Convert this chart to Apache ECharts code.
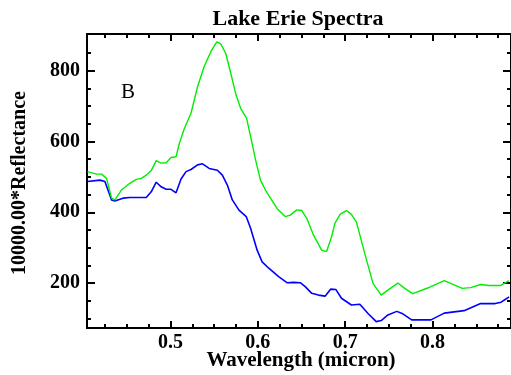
<!DOCTYPE html>
<html>
<head>
<meta charset="utf-8">
<script src="https://cdn.jsdelivr.net/npm/echarts@6/dist/echarts.min.js"></script>
<style>
  html, body { margin: 0; padding: 0; background: #fff; }
  #chart { width: 511px; height: 375px; }
</style>
</head>
<body>
<div id="chart"></div>
<script>
// wavelength (micron) / reflectance*10000
const greenWl = [0.405, 0.4155, 0.4212, 0.4269, 0.4326, 0.4363, 0.4439, 0.4534, 0.461, 0.4667,
  0.4723, 0.478, 0.4837, 0.4894, 0.4951, 0.5007, 0.5064, 0.5102, 0.5159, 0.5235,
  0.531, 0.5386, 0.5462, 0.553, 0.5576, 0.5633, 0.569, 0.5746, 0.5803, 0.5871,
  0.5917, 0.5974, 0.603, 0.6087, 0.6219, 0.6314, 0.6371, 0.6446, 0.6503, 0.656,
  0.6636, 0.673, 0.6787, 0.6844, 0.6882, 0.6943, 0.7014, 0.7068, 0.7128, 0.7223,
  0.7318, 0.7412, 0.7488, 0.7602, 0.7681, 0.7772, 0.7943, 0.8133, 0.8227, 0.8341,
  0.8435, 0.8549, 0.8644, 0.8776, 0.8833, 0.8871];
const greenRefl = [515, 508, 508, 496, 440, 435, 463, 482, 493, 496,
  505, 518, 546, 539, 540, 555, 557, 595, 637, 680,
  755, 812, 854, 882, 876, 849, 793, 736, 694, 666,
  614, 548, 491, 463, 411, 388, 392, 407, 405, 383,
  336, 293, 289, 331, 369, 395, 405, 395, 373, 284,
  199, 166, 180, 200, 185, 170, 186, 207, 197, 185,
  187, 196, 193, 193, 201, 207];

const blueWl = [0.405, 0.4193, 0.425, 0.4326, 0.4363, 0.4457, 0.4534, 0.4723, 0.478, 0.4837,
  0.4894, 0.4951, 0.5007, 0.5064, 0.5121, 0.5178, 0.5235, 0.531, 0.5367, 0.5443,
  0.5537, 0.5594, 0.5651, 0.5708, 0.5784, 0.5867, 0.5917, 0.5992, 0.6049, 0.6125,
  0.6238, 0.6333, 0.6409, 0.6485, 0.6542, 0.6617, 0.6693, 0.6769, 0.6835, 0.6892,
  0.6957, 0.7071, 0.7167, 0.7261, 0.7355, 0.7412, 0.7488, 0.759, 0.7659, 0.7761,
  0.7981, 0.8133, 0.836, 0.8549, 0.8716, 0.8784, 0.8852, 0.8875];
const blueRefl = [487, 491, 487, 435, 432, 440, 442, 442, 458, 485,
  472, 465, 465, 455, 494, 515, 521, 534, 537, 524,
  519, 505, 477, 435, 406, 388, 355, 293, 260, 242,
  218, 201, 202, 201, 190, 171, 166, 163, 183, 182,
  157, 138, 140, 114, 91, 94, 110, 120, 113, 96,
  96, 115, 122, 142, 142, 146, 157, 161];

const xMajor = [0.5, 0.6, 0.7, 0.8];
const xMinor = [0.425, 0.45, 0.475, 0.525, 0.55, 0.575, 0.625, 0.65, 0.675,
  0.725, 0.75, 0.775, 0.825, 0.85, 0.875];
const yMajor = [200, 400, 600, 800];
const yMinor = [100, 150, 250, 300, 350, 450, 500, 550, 650, 700, 750, 850];

const serif = '"Liberation Serif", "DejaVu Serif", serif';

const myChart = echarts.init(document.getElementById('chart'));

function xAxis(pos, ticks, len, labels) {
  return {
    type: 'value', min: 0.4045, max: 0.8897, position: pos,
    axisLine: {show: true, onZero: false, lineStyle: {color: '#000', width: 2}},
    axisTick: {show: true, inside: true, length: len, customValues: ticks,
      lineStyle: {color: '#000', width: 2}},
    axisLabel: {show: labels, customValues: ticks, margin: 5, color: '#000',
      fontFamily: serif, fontSize: 20, fontWeight: 'bold',
      formatter: v => v.toFixed(1)},
    splitLine: {show: false}
  };
}
function yAxis(pos, ticks, len, labels) {
  return {
    type: 'value', min: 73, max: 904, position: pos,
    axisLine: {show: true, onZero: false, lineStyle: {color: '#000', width: 2}},
    axisTick: {show: true, inside: true, length: len, customValues: ticks,
      lineStyle: {color: '#000', width: 2}},
    axisLabel: {show: labels, customValues: ticks, margin: 7, color: '#000',
      fontFamily: serif, fontSize: 20, fontWeight: 'bold'},
    splitLine: {show: false}
  };
}

myChart.setOption({
  animation: false,
  backgroundColor: '#fff',
  grid: {left: 87, top: 34, width: 427, height: 294},
  xAxis: [
    xAxis('bottom', xMajor, 7, true),
    xAxis('bottom', xMinor, 4, false),
    xAxis('top', xMajor, 7, false),
    xAxis('top', xMinor, 4, false)
  ],
  yAxis: [
    yAxis('left', yMajor, 8, true),
    yAxis('left', yMinor, 4, false),
    yAxis('right', yMajor, 8, false),
    yAxis('right', yMinor, 4, false)
  ],
  graphic: [
    {type: 'text', x: 298, y: 19,
      style: {text: 'Lake Erie Spectra', align: 'center', verticalAlign: 'middle',
        fill: '#000', font: 'bold 22px ' + serif}},
    {type: 'text', x: 20, y: 183, rotation: Math.PI / 2,
      style: {text: '10000.00*Reflectance', align: 'center', verticalAlign: 'middle',
        fill: '#000', font: 'bold 20px ' + serif}},
    {type: 'text', x: 301, y: 361,
      style: {text: 'Wavelength (micron)', align: 'center', verticalAlign: 'middle',
        fill: '#000', font: 'bold 21px ' + serif}},
    {type: 'text', x: 128, y: 92,
      style: {text: 'B', align: 'center', verticalAlign: 'middle',
        fill: '#000', font: '21px ' + serif}}
  ],
  series: [
    {
      type: 'line', xAxisIndex: 0, yAxisIndex: 0, showSymbol: false,
      lineStyle: {color: '#0000ff', width: 1.6},
      data: blueWl.map((w, i) => [w, blueRefl[i]])
    },
    {
      type: 'line', xAxisIndex: 0, yAxisIndex: 0, showSymbol: false,
      lineStyle: {color: '#00ee00', width: 1.4},
      data: greenWl.map((w, i) => [w, greenRefl[i]])
    }
  ]
});
</script>
</body>
</html>
